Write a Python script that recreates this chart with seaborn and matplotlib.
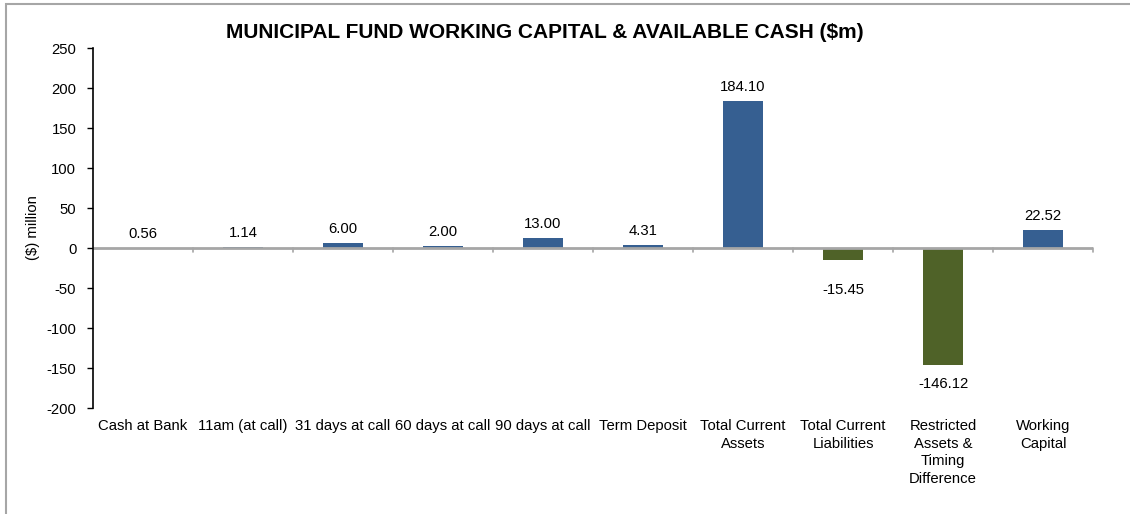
import matplotlib
matplotlib.use("Agg")
import matplotlib.pyplot as plt
import seaborn as sns
import pandas as pd
from matplotlib.patches import Rectangle

categories = ["Cash at Bank", "11am (at call)", "31 days at call", "60 days at call",
              "90 days at call", "Term Deposit", "Total Current\nAssets",
              "Total Current\nLiabilities", "Restricted\nAssets &\nTiming\nDifference",
              "Working\nCapital"]
values = [0.56, 1.14, 6.00, 2.00, 13.00, 4.31, 184.10, -15.45, -146.12, 22.52]
labels = ["0.56", "1.14", "6.00", "2.00", "13.00", "4.31", "184.10", "-15.45", "-146.12", "22.52"]
yticks = [250, 200, 150, 100, 50, 0, -50, -100, -150, -200]

BLUE = "#365F91"
GREEN = "#4F6228"

sns.set_theme(style="white")
plt.rcParams['font.family'] = ['Liberation Sans', 'DejaVu Sans']

df = pd.DataFrame({"cat": categories, "val": values})
colors = [BLUE if v >= 0 else GREEN for v in values]

fig = plt.figure(figsize=(11.3, 5.14), dpi=100)
ax = fig.add_axes([93/1130, 1 - 408/514, 1000/1130, 360/514])

sns.barplot(data=df, x="cat", y="val", hue="cat", palette=colors, legend=False,
            width=0.4, ax=ax, saturation=1, edgecolor="none")

FS = 10.7
ax.set_ylim(-200, 250)
ax.set_xlim(-0.5, len(categories) - 0.5)
ax.set_yticks(yticks)
ax.set_yticklabels([str(t) for t in yticks], fontsize=FS, color="black")
ax.tick_params(axis="y", which="both", left=True, length=4, width=1, color="black", pad=8)
ax.tick_params(axis="x", bottom=False, length=0, pad=8)
ax.set_xticks(range(len(categories)))
ax.set_xticklabels(categories, fontsize=FS, color="black", linespacing=1.32)
for lbl in ax.get_xticklabels():
    lbl.set_verticalalignment("top")
ax.set_xlabel("")
ax.set_ylabel("($) million", fontsize=FS, color="black", labelpad=2)
ax.yaxis.set_label_coords(-53/1000, 0.5)

for s in ["top", "right", "bottom"]:
    ax.spines[s].set_visible(False)
ax.spines["left"].set_color("black")
ax.spines["left"].set_linewidth(1.2)

# zero line with category separator ticks
ax.axhline(0, color="#A6A6A6", lw=2, zorder=1)
for b in range(1, len(categories) + 1):
    ax.plot([b - 0.5, b - 0.5], [0, -5], color="#A6A6A6", lw=1.2, clip_on=False, zorder=1)

neg_offsets = {7: -16, 8: -9}
for i, (v, t) in enumerate(zip(values, labels)):
    if v >= 0:
        ax.annotate(t, (i, v), xytext=(0, 5), textcoords="offset points",
                    ha="center", va="bottom", fontsize=FS, color="black")
    else:
        ax.annotate(t, (i, v), xytext=(0, neg_offsets.get(i, -9)), textcoords="offset points",
                    ha="center", va="top", fontsize=FS, color="black")

fig.text(545/1130, 1 - 33/514, "MUNICIPAL FUND WORKING CAPITAL & AVAILABLE CASH ($m)",
         ha="center", va="center", fontsize=15, fontweight="bold", color="black")

fig.patches.append(Rectangle((6/1130, -0.1), 1.2, 1 - 4/514 + 0.1, transform=fig.transFigure,
                             fill=False, edgecolor="#A6A6A6", lw=1.5))

fig.savefig("out.png", dpi=100)
